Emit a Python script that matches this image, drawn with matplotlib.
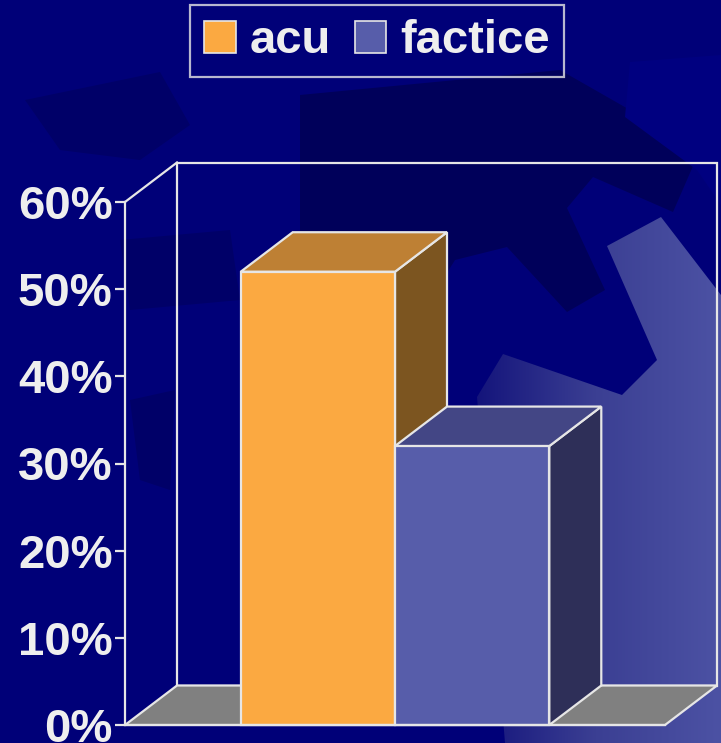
import numpy as np
import matplotlib
matplotlib.use('Agg')
import matplotlib.pyplot as plt
from matplotlib.patches import Polygon, Patch

# data
series = ['acu', 'factice']
values = [52, 32]
front_colors = ['#FBA941', '#575DAA']
top_colors = ['#BE8034', '#434685']
side_colors = ['#7C5520', '#2E2F58']
yticks = [0, 10, 20, 30, 40, 50, 60]
ytick_labels = ['0%', '10%', '20%', '30%', '40%', '50%', '60%']

W, H = 721, 743
LINE = '#E6E6E6'
TEXT = '#EEEEEE'
FONT = 'Liberation Sans'

fig = plt.figure(figsize=(W / 100, H / 100), dpi=100)
fig.patch.set_facecolor('#000078')

# background decoration, in pixel coords
bg = fig.add_axes([0, 0, 1, 1], zorder=0)
bg.set_xlim(0, W)
bg.set_ylim(H, 0)
bg.axis('off')
bg.add_patch(Polygon([(300, 95), (560, 70), (700, 150), (673, 212), (593, 177), (567, 208),
                      (605, 290), (567, 312), (507, 247), (455, 260), (430, 300), (300, 250)],
                     closed=True, facecolor='#00005A', edgecolor='none'))
faint_shapes = [
    [(25, 100), (160, 72), (190, 125), (140, 160), (60, 150)],
    [(120, 240), (230, 230), (240, 300), (130, 310)],
    [(130, 400), (175, 390), (170, 490), (140, 480)],
]
for pts in faint_shapes:
    bg.add_patch(Polygon(pts, closed=True, facecolor='#000068', edgecolor='none'))
bg.add_patch(Polygon([(630, 62), (721, 55), (721, 205), (697, 170), (625, 117)],
                     closed=True, facecolor='#000080', edgecolor='none'))

light_pts = [(607, 246), (661, 217), (721, 295), (721, 743), (505, 743), (477, 397),
             (503, 354), (622, 395), (657, 360)]
light = Polygon(light_pts, closed=True, facecolor='none', edgecolor='none')
bg.add_patch(light)
grad = np.linspace(0, 1, 256).reshape(1, -1)
cmap = matplotlib.colors.LinearSegmentedColormap.from_list('g', ['#12127A', '#3B3F93', '#4C52A4'])
im = bg.imshow(grad, cmap=cmap, extent=(470, 721, 743, 210), aspect='auto', zorder=1)
im.set_clip_path(light)

# main chart axes = front plane
x0, x1, yb, yt = 125, 665, 725, 202
ax = fig.add_axes([x0 / W, (H - yb) / H, (x1 - x0) / W, (yb - yt) / H], zorder=2)
ax.set_xlim(0, 1)
ax.set_ylim(0, 60)
ax.patch.set_alpha(0)
DX = 52 / (x1 - x0)
DY = 39.5 / (yb - yt) * 60

kw = dict(edgecolor=LINE, linewidth=1.6, clip_on=False, joinstyle='miter')
# back wall & left wall lines
ax.add_patch(Polygon([(DX, DY), (1 + DX, DY), (1 + DX, 60 + DY), (DX, 60 + DY)],
                     closed=True, facecolor='none', **kw))
ax.plot([0, DX], [60, 60 + DY], color=LINE, lw=1.6, clip_on=False)
# floor
ax.add_patch(Polygon([(0, 0), (1, 0), (1 + DX, DY), (DX, DY)], closed=True,
                     facecolor='#808080', **kw))

# bars (Excel-like gap width 150%)
w = 1 / 3.5
for i, (v, fc, tc, sc) in enumerate(zip(values, front_colors, top_colors, side_colors)):
    left = 0.5 - w + i * w
    right = left + w
    ax.add_patch(Polygon([(right, 0), (right + DX, DY), (right + DX, v + DY), (right, v)],
                         closed=True, facecolor=sc, **kw))
    ax.add_patch(Polygon([(left, v), (right, v), (right + DX, v + DY), (left + DX, v + DY)],
                         closed=True, facecolor=tc, **kw))
    ax.add_patch(Polygon([(left, 0), (right, 0), (right, v), (left, v)],
                         closed=True, facecolor=fc, **kw))

for s in ['top', 'right']:
    ax.spines[s].set_visible(False)
for s in ['left', 'bottom']:
    ax.spines[s].set_color(LINE)
    ax.spines[s].set_linewidth(1.6)
ax.set_yticks(yticks)
ax.set_yticklabels(ytick_labels, fontsize=34, fontweight='bold', color=TEXT, family=FONT)
ax.tick_params(axis='y', direction='out', length=7, width=1.6, color=LINE, pad=2)
ax.set_xticks([])

handles = [Patch(facecolor=c, edgecolor=LINE, linewidth=1.2) for c in front_colors]
leg = fig.legend(handles, series, loc='upper center', bbox_to_anchor=(377 / W, 1 - 5 / H),
                 ncol=2, frameon=True, fancybox=False, handlelength=0.66, handleheight=0.66,
                 handletextpad=0.3, columnspacing=0.5, borderpad=0.3, borderaxespad=0,
                 prop={'family': FONT, 'weight': 'bold', 'size': 34})
leg.get_frame().set_facecolor('none')
leg.get_frame().set_edgecolor(LINE)
leg.get_frame().set_linewidth(1.6)
for t in leg.get_texts():
    t.set_color(TEXT)

fig.savefig('out.png', dpi=100, facecolor=fig.get_facecolor())
